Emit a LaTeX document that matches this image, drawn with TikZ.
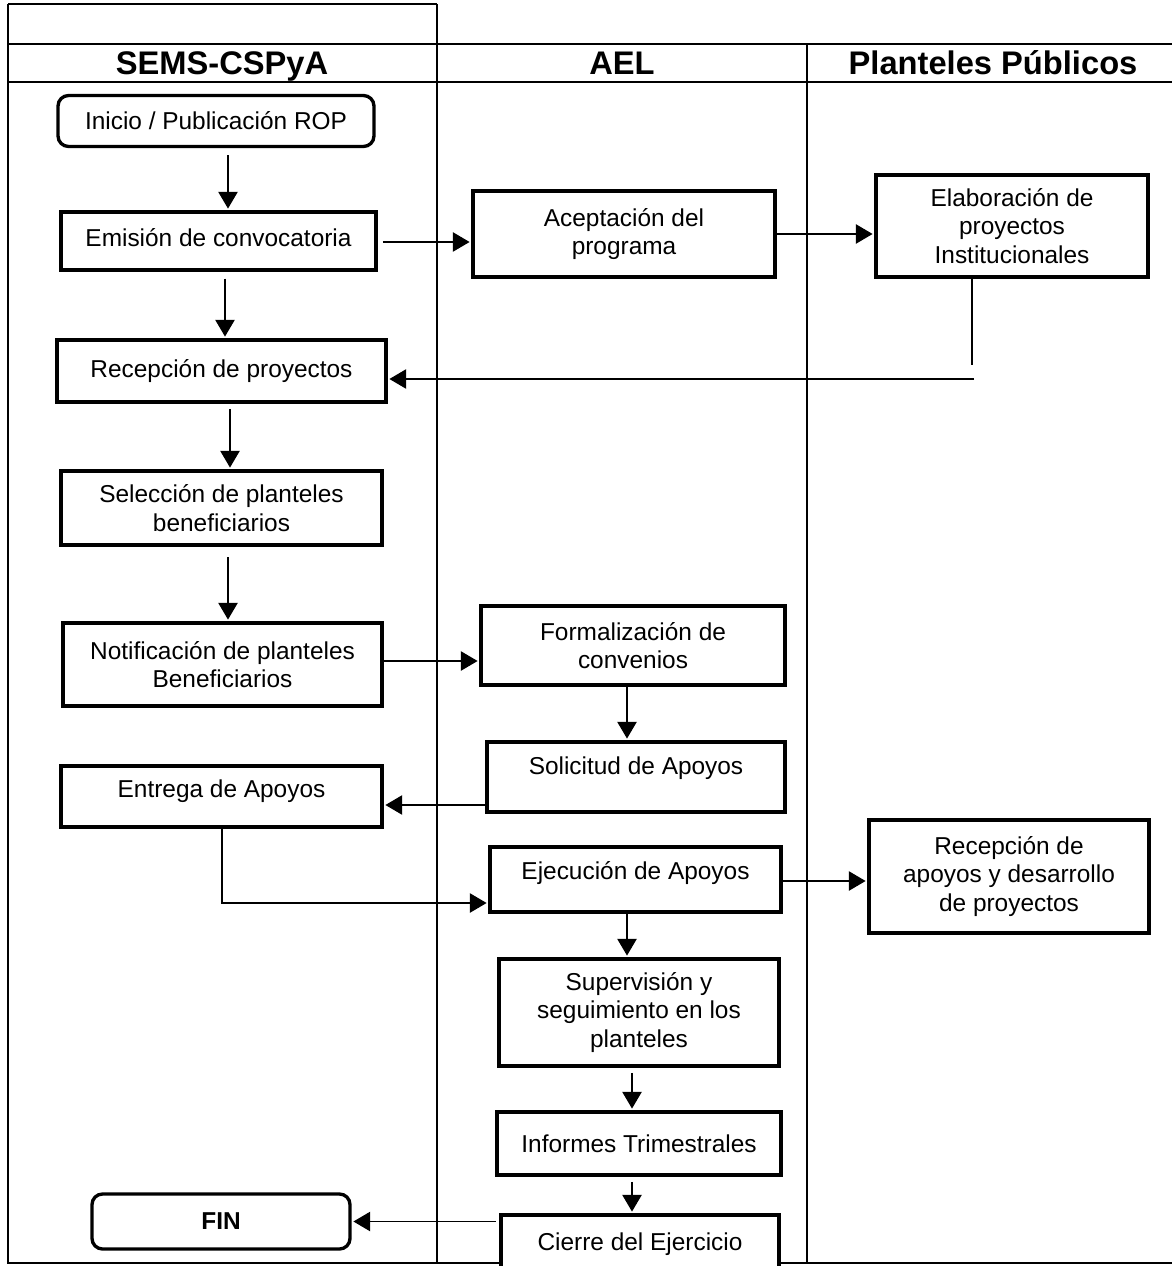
\documentclass[tikz,border=0pt]{standalone}
\usepackage{fontspec}
\setmainfont{Liberation Sans}
\usetikzlibrary{arrows.meta}
\tikzset{
	lane/.style={line width=0.8pt},
	box/.style={draw, line width=1.9pt, fill=white, align=center, inner sep=0pt,
		font=\fontsize{13.9}{16.2}\selectfont},
	endbox/.style={box, rounded corners=6pt},
	sz/.style 2 args={minimum width=#1*0.02cm, minimum height=#2*0.02cm},
	lift/.style={text depth=#1},
	title/.style={font=\fontsize{18.6}{20}\selectfont\bfseries, text height=13.4pt, text depth=3.6pt},
	conn/.style={line width=0.7pt},
	arr/.style={conn, -{Triangle[length=9.5pt, width=11pt]}, shorten >=1pt}
}
\begin{document}
\begin{tikzpicture}[x=0.02cm, y=-0.02cm]
	\clip (0, 0) rectangle (1172, 1266);
	\fill[white] (0, 0) rectangle (1172, 1266);
	% lanes
	\draw[lane] (8, 4) -- (437, 4);
	\draw[lane] (8, 4) -- (8, 1263) -- (1172, 1263);
	\draw[lane] (8, 44) -- (1172, 44);
	\draw[lane] (8, 82) -- (1172, 82);
	\draw[lane] (437, 4) -- (437, 1263);
	\draw[lane] (807, 44) -- (807, 1263);
	\node (tsems) at (222, 66)[title] {SEMS-CSPyA};
	\node (tael) at (622, 66)[title] {AEL};
	\node (tplan) at (993, 66)[title] {Planteles Públicos};
	% steps
	\node (ini) at (216, 121)[endbox, sz={316}{51}] {Inicio / Publicación ROP};
	\node (emi) at (218.5, 241)[box, sz={315}{58}, lift=4.5pt] {Emisión de convocatoria};
	\node (acep) at (624, 234)[box, sz={302}{86}] {Aceptación del\\programa};
	\node (elab) at (1012, 226)[box, sz={272}{102}] {Elaboración de\\proyectos\\Institucionales};
	\node (recp) at (221.5, 371)[box, sz={329}{62}] {Recepción de proyectos};
	\node (sel) at (221.5, 508)[box, sz={321}{74}] {Selección de planteles\\beneficiarios};
	\node (noti) at (222.5, 664.5)[box, sz={319}{83}] {Notificación de planteles\\Beneficiarios};
	\node (form) at (633, 645.5)[box, sz={304}{79}] {Formalización de\\convenios};
	\node (soli) at (636, 777)[box, sz={298}{70}, lift=13pt] {Solicitud de Apoyos};
	\node (entr) at (221.5, 796.5)[box, sz={321}{61}, lift=8.6pt] {Entrega de Apoyos};
	\node (ejec) at (635.5, 879.5)[box, sz={291}{65}, lift=10.8pt] {Ejecución de Apoyos};
	\node (reca) at (1009, 876.5)[box, sz={280}{113}] {Recepción de\\apoyos y desarrollo\\de proyectos};
	\node (sup) at (639, 1012.5)[box, sz={280}{107}] {Supervisión y\\seguimiento en los\\planteles};
	\node (inf) at (639, 1143.5)[box, sz={284}{63}] {Informes Trimestrales};
	\node (fin) at (221, 1221.5)[endbox, sz={258}{55}] {\bfseries FIN};
	\node (cie) at (640, 1244)[box, sz={278}{58}] {Cierre del Ejercicio};
	% connectors
	\draw[arr, shorten <=4pt] (ini.south -| 228, 0) -- (emi.north -| 228, 0);
	\draw[arr, shorten <=4pt] (emi.south -| 225, 0) -- (recp.north -| 225, 0);
	\draw[arr, shorten <=3pt] (emi.east |- 0, 242) -- (acep.west |- 0, 242);
	\draw[arr] (acep.east |- 0, 234) -- (elab.west |- 0, 234);
	\coordinate (back) at (972, 365);
	\coordinate (ret) at (974, 379);
	\draw[conn] (elab.south -| back) -- (back);
	\draw[arr] (ret) -- (recp.east |- ret);
	\draw[arr, shorten <=3pt] (recp.south -| 230, 0) -- (sel.north -| 230, 0);
	\draw[arr, shorten <=6pt] (sel.south -| 228, 0) -- (noti.north -| 228, 0);
	\draw[arr] (noti.east |- 0, 661) -- (form.west |- 0, 661);
	\draw[arr] (form.south -| 627, 0) -- (soli.north -| 627, 0);
	\draw[arr] (soli.west |- 0, 805) -- (entr.east |- 0, 805);
	\coordinate (bend) at (222, 903);
	\draw[arr] (entr.south -| bend) -- (bend) -- (ejec.west |- bend);
	\draw[arr] (ejec.east |- 0, 881) -- (reca.west |- 0, 881);
	\draw[arr] (ejec.south -| 627, 0) -- (sup.north -| 627, 0);
	\draw[arr, shorten <=3pt] (sup.south -| 632, 0) -- (inf.north -| 632, 0);
	\draw[arr, shorten <=3pt] (inf.south -| 632, 0) -- (cie.north -| 632, 0);
	\draw[arr, shorten <=2pt] (cie.west |- fin) -- (fin.east);
\end{tikzpicture}
\end{document}
